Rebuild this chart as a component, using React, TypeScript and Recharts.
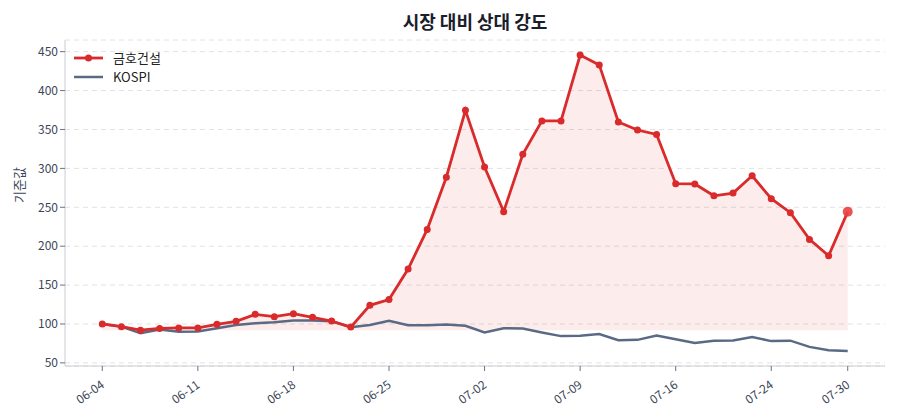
import { ComposedChart, Line, Area, XAxis, YAxis, CartesianGrid } from 'recharts';

// 거래일 라벨 (인덱스 기준으로 배치)
const dates = [
  '06-04', '06-05', '06-06', '06-09', '06-10', '06-11', '06-12', '06-13', '06-16', '06-17',
  '06-18', '06-19', '06-20', '06-23', '06-24', '06-25', '06-26', '06-27', '06-30', '07-01',
  '07-02', '07-03', '07-04', '07-07', '07-08', '07-09', '07-10', '07-11', '07-14', '07-15',
  '07-16', '07-17', '07-18', '07-21', '07-22', '07-24', '07-25', '07-28', '07-29', '07-30',
];

const stock = [
  100, 96.6, 92, 94.3, 95, 95, 99.5, 103.4, 112.4, 109.4,
  113.3, 108.6, 103.8, 96, 124, 131.5, 170.6, 221.6, 288.6, 374.6,
  301.8, 244.4, 318, 361, 361, 445.7, 433, 359.6, 349.3, 343.7,
  280.3, 280, 264.8, 268.2, 290.5, 261, 243, 208.7, 187.7, 244.3,
];

const kospi = [
  100, 96.6, 88, 93, 89.9, 90.3, 94.6, 98.8, 101, 102.3,
  104.4, 104.4, 103.5, 95.8, 98.8, 104.2, 98.4, 98.4, 99.3, 97.6,
  89, 94.6, 94.1, 89, 84.4, 84.8, 87, 79.2, 79.6, 85.1,
  80.4, 75.6, 78.6, 78.9, 83.2, 78, 78.6, 70.6, 66.3, 65.4,
];

const xTicks = [0, 5, 10, 15, 20, 25, 30, 35, 39];
const yTicks = [50, 100, 150, 200, 250, 300, 350, 400, 450];

const RED = '#d92b2b';
const SLATE = '#5a6a85';
const FONT = '"Noto Sans CJK KR", "Noto Sans", sans-serif';

const baseline = Math.min(...stock);
const data = dates.map((d, i) => ({ i, date: d, stock: stock[i], kospi: kospi[i] }));

const StockDot = (props: any) => {
  const { cx, cy, index } = props;
  if (index === stock.length - 1) {
    return <circle key={index} cx={cx} cy={cy} r={5} fill="#e8403f" fillOpacity={0.9} />;
  }
  return <circle key={index} cx={cx} cy={cy} r={3.5} fill={RED} />;
};

const XTick = ({ x, y, payload }: any) => (
  <text
    x={x}
    y={y + 6}
    textAnchor="end"
    fill="#3c4658"
    fontSize={12}
    fontFamily={FONT}
    transform={`rotate(-35, ${x}, ${y + 6})`}
    dy={8}
    dx={-2}
  >
    {dates[payload.value]}
  </text>
);

export default function App() {
  return (
    <div style={{ position: 'absolute', left: 0, top: 0, width: 900, height: 420, background: '#fff', fontFamily: FONT }}>
      <div
        style={{
          position: 'absolute', left: 65, width: 820, top: 8, textAlign: 'center',
          fontSize: 18, fontWeight: 'bold', color: '#1a1d2b',
        }}
      >
        시장 대비 상대 강도
      </div>
      <ComposedChart width={900} height={420} data={data} margin={{ top: 40, right: 15, left: 15, bottom: 0 }}>
        <CartesianGrid vertical={false} strokeDasharray="5 4" stroke="#e2e2e2" />
        <XAxis
          dataKey="i"
          type="number"
          domain={[-1.95, 40.95]}
          ticks={xTicks}
          tick={<XTick />}
          height={54}
          stroke="#c8ccd4"
          tickLine={{ stroke: '#6b7280' }}
          tickSize={5}
          interval={0}
        />
        <YAxis
          type="number"
          domain={[46, 465]}
          ticks={yTicks}
          width={50}
          stroke="#c8ccd4"
          tickLine={{ stroke: '#6b7280' }}
          tickSize={5}
          tick={{ fill: '#3c4658', fontSize: 12, fontFamily: FONT }}
          label={{ value: '기준값', angle: -90, position: 'insideLeft', offset: 4, fill: '#3c4658', fontSize: 13, fontFamily: FONT }}
        />
        <Area
          type="linear"
          dataKey="stock"
          baseValue={baseline}
          stroke="none"
          fill={RED}
          fillOpacity={0.09}
          isAnimationActive={false}
        />
        <Line type="linear" dataKey="kospi" stroke={SLATE} strokeWidth={2.5} dot={false} isAnimationActive={false} />
        <Line type="linear" dataKey="stock" stroke={RED} strokeWidth={2.8} dot={<StockDot />} isAnimationActive={false} />
      </ComposedChart>
      <div style={{ position: 'absolute', left: 74, top: 48, fontSize: 13, color: '#222' }}>
        <div style={{ display: 'flex', alignItems: 'center', height: 19 }}>
          <svg width={30} height={10} style={{ marginRight: 9 }}>
            <line x1={0} y1={5} x2={29} y2={5} stroke={RED} strokeWidth={2.8} />
            <circle cx={14.5} cy={5} r={3.5} fill={RED} />
          </svg>
          금호건설
        </div>
        <div style={{ display: 'flex', alignItems: 'center', height: 19 }}>
          <svg width={30} height={10} style={{ marginRight: 9 }}>
            <line x1={0} y1={5} x2={29} y2={5} stroke={SLATE} strokeWidth={2.5} />
          </svg>
          KOSPI
        </div>
      </div>
    </div>
  );
}
